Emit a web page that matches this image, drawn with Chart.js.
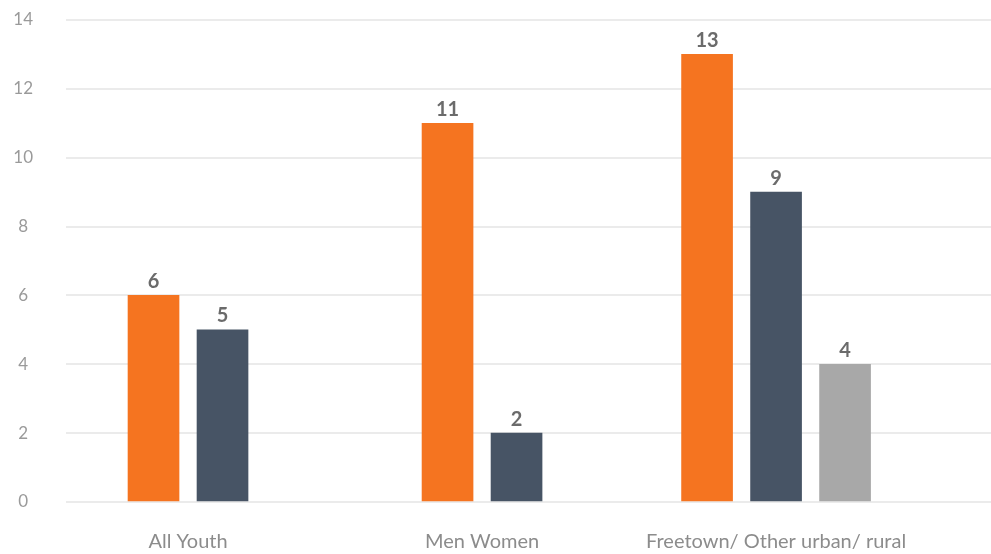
<!DOCTYPE html>
<html>
<head>
<meta charset="utf-8">
<script src="https://cdn.jsdelivr.net/npm/chart.js@4/dist/chart.umd.min.js"></script>
<style>
  html, body { margin: 0; padding: 0; background: #fff; }
  #wrap { width: 991px; height: 554px; position: relative; }
</style>
</head>
<body>
<div id="wrap"><canvas id="chart"></canvas></div>
<script>
let categories = ["All Youth", "Men Women", "Freetown/ Other urban/ rural"];
let firstValues = [6, 11, 13];
let secondValues = [5, 2, 9];
let thirdValues = [null, null, 4];
let yTicks = [0, 2, 4, 6, 8, 10, 12, 14];

function toPoints(values) {
    return values.map((v, i) => ({ x: i, y: v }));
}

// draws the value above each bar
let valueLabels = {
    id: "valueLabels",
    afterDatasetsDraw(chart) {
        let ctx = chart.ctx;
        ctx.save();
        ctx.font = "bold 20px Lato";
        ctx.fillStyle = "#6b6b6b";
        ctx.textAlign = "center";
        ctx.textBaseline = "bottom";
        chart.data.datasets.forEach((ds, di) => {
            chart.getDatasetMeta(di).data.forEach((bar, i) => {
                let v = ds.data[i].y;
                if (v === null) return;
                ctx.fillText(v, bar.x, bar.y - 4);
            });
        });
        ctx.restore();
    }
};

let ctx = document.getElementById("chart").getContext("2d");
let chart = new Chart(ctx, {
    type: "bar",
    data: {
        datasets: [
            { data: toPoints(firstValues), backgroundColor: "#f57420" },
            { data: toPoints(secondValues), backgroundColor: "#475465" },
            { data: toPoints(thirdValues), backgroundColor: "#a8a8a8" }
        ]
    },
    options: {
        responsive: true,
        maintainAspectRatio: false,
        animation: false,
        skipNull: true,
        barThickness: 69,
        maxBarThickness: 51,
        layout: { padding: { top: 20, right: 0, left: 0, bottom: 0 } },
        plugins: {
            legend: { display: false },
            tooltip: { enabled: false }
        },
        scales: {
            x: {
                type: "linear",
                offset: false,
                min: -0.415,
                max: 2.731,
                grid: { display: false, offset: false },
                border: { display: false },
                afterBuildTicks: scale => {
                    scale.ticks = categories.map((c, i) => ({ value: i }));
                },
                afterFit: scale => {
                    scale.height = 52;
                    scale.paddingLeft = 0;
                    scale.paddingRight = 0;
                },
                ticks: {
                    autoSkip: false,
                    maxRotation: 0,
                    padding: 20,
                    color: "#8c8c8c",
                    font: { family: "Lato", size: 20 },
                    callback: v => categories[v] || ""
                }
            },
            y: {
                min: 0,
                max: 14,
                grid: { color: "#ebebeb", lineWidth: 2, drawTicks: false },
                border: { display: false },
                afterBuildTicks: scale => {
                    scale.ticks = yTicks.map(v => ({ value: v }));
                },
                afterFit: scale => {
                    scale.width = 66;
                    scale.paddingTop = 0;
                    scale.paddingBottom = 0;
                },
                ticks: {
                    crossAlign: "center",
                    padding: 33,
                    color: "#9a9a9a",
                    font: { family: "Lato", size: 17 }
                }
            }
        }
    },
    plugins: [valueLabels]
});
</script>
</body>
</html>
